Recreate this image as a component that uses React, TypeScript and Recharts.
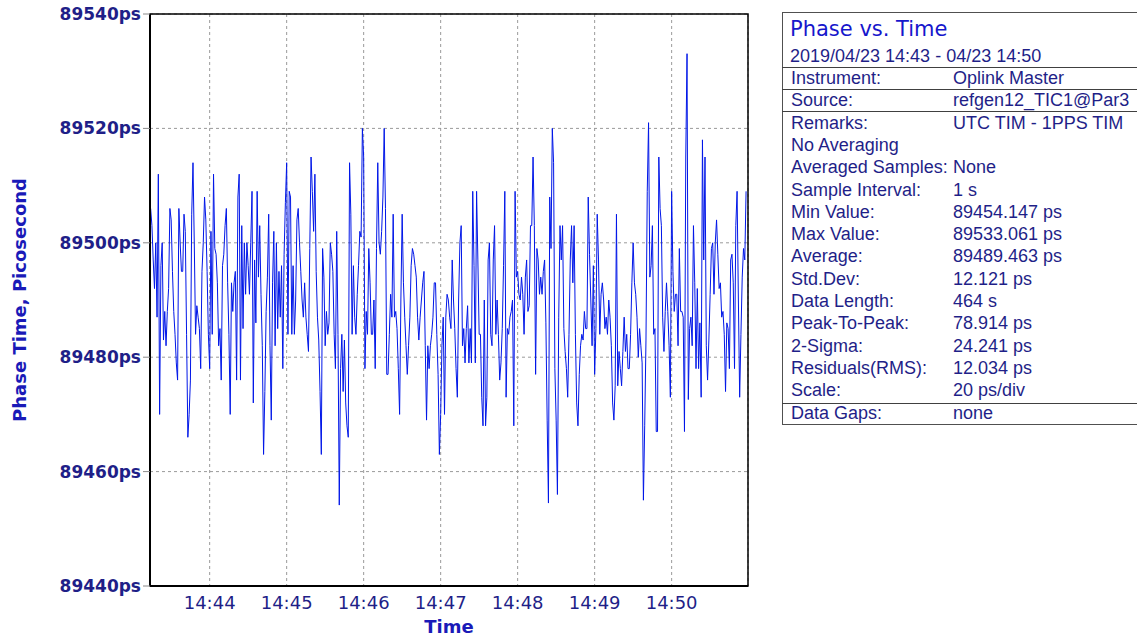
import React from 'react';
import { LineChart, Line, XAxis, YAxis, CartesianGrid, ReferenceArea } from 'recharts';

// phase readings in ps, one per second, starting 14:43:14
const phaseBlock1 = [
  89506, 89503, 89497, 89492, 89500, 89487, 89512, 89470, 89496, 89500,
  89483, 89488, 89482, 89488, 89492, 89506, 89504, 89495, 89488, 89484,
  89479, 89476, 89506, 89500, 89495, 89495, 89505, 89502, 89484, 89466,
  89470, 89476, 89505, 89514, 89500, 89484, 89489, 89487, 89485, 89478,
  89495, 89500, 89508, 89504, 89495, 89484, 89478, 89502, 89484, 89512,
  89499, 89498, 89493, 89482, 89485, 89476, 89496, 89498, 89503, 89506,
  89493, 89484, 89470, 89493, 89488, 89493, 89495, 89476, 89508, 89512,
  89476, 89503, 89485, 89500, 89491, 89500,
];
const phaseBlock2 = [
  89496, 89491, 89500, 89509, 89472, 89497, 89486, 89509, 89494, 89503,
  89491, 89482, 89463, 89474, 89488, 89494, 89505, 89482, 89469, 89493,
  89502, 89482, 89500, 89485, 89495, 89487, 89496, 89478, 89498, 89507,
  89514, 89484, 89509, 89508, 89484, 89496, 89484, 89490, 89504, 89506,
  89500, 89495, 89490, 89487, 89493, 89487, 89484, 89481, 89499, 89515,
  89509, 89502, 89512, 89495, 89487, 89483, 89474, 89463, 89499, 89494,
  89482, 89488, 89484, 89486, 89500, 89498, 89495, 89484, 89478, 89502,
  89484, 89454.147, 89478, 89484, 89474, 89483, 89472, 89468,
];
const phaseBlock3 = [
  89466, 89514, 89505, 89484, 89496, 89487, 89484, 89491, 89496, 89502,
  89501, 89520, 89515, 89478, 89488, 89484, 89499, 89493, 89484, 89484,
  89490, 89478, 89499, 89514, 89500, 89498, 89502, 89508, 89520, 89506,
  89477, 89477, 89484, 89491, 89487, 89505, 89487, 89488, 89485, 89478,
  89470, 89490, 89505, 89493, 89487, 89482, 89477, 89482, 89487, 89496,
  89499, 89498, 89496, 89494, 89487, 89483, 89487, 89490, 89493, 89495,
  89482, 89469, 89482, 89478, 89482, 89484, 89487, 89493, 89493, 89484,
  89477, 89463, 89470, 89482, 89487, 89470, 89487, 89491,
];
const phaseBlock4 = [
  89490, 89487, 89485, 89497, 89490, 89485, 89478, 89473, 89490, 89500,
  89503, 89482, 89485, 89479, 89485, 89489, 89479, 89485, 89479, 89509,
  89496, 89479, 89509, 89497, 89484, 89484, 89473, 89468, 89490, 89468,
  89473, 89497, 89500, 89484, 89482, 89497, 89503, 89484, 89490, 89484,
  89476, 89479, 89485, 89496, 89509, 89473, 89485, 89484, 89487, 89488,
  89490, 89468, 89509, 89494, 89495, 89491, 89490, 89494, 89491, 89484,
  89494, 89497, 89488, 89489, 89503, 89503, 89515, 89503, 89477, 89499,
  89497, 89491, 89494, 89491, 89495, 89497, 89486, 89469,
];
const phaseBlock5 = [
  89454.5, 89508, 89499, 89520, 89514, 89478, 89469, 89456, 89487, 89503,
  89497, 89503, 89485, 89481, 89478, 89473, 89484, 89497, 89503, 89493,
  89503, 89484, 89472, 89468, 89477, 89482, 89484, 89483, 89488, 89485,
  89485, 89508, 89498, 89490, 89482, 89496, 89477, 89485, 89505, 89497,
  89484, 89491, 89493, 89490, 89485, 89487, 89484, 89490, 89487, 89482,
  89472, 89469, 89475, 89505, 89475, 89481, 89478, 89475, 89481, 89487,
  89481, 89484, 89478, 89478, 89484, 89493, 89500, 89493, 89491, 89487,
  89480, 89485, 89482, 89479, 89455, 89468, 89483, 89509,
];
const phaseBlock6 = [
  89521, 89494, 89496, 89503, 89484, 89485, 89467, 89467, 89515, 89506,
  89503, 89487, 89481, 89488, 89493, 89488, 89482, 89473, 89509, 89495,
  89488, 89491, 89491, 89482, 89499, 89488, 89488, 89487, 89467, 89515,
  89533.061, 89472.6, 89485, 89487, 89482, 89503, 89493, 89478, 89492, 89478,
  89486, 89473, 89518, 89497, 89515, 89482, 89476, 89483, 89491, 89499,
  89500, 89491, 89500, 89504, 89498, 89492, 89493, 89487, 89488, 89484,
  89474, 89486, 89485, 89478, 89497, 89498, 89493, 89478, 89503, 89509,
  89490, 89473, 89484, 89494, 89499, 89497, 89509,
];

const minuteTicks = [60, 120, 180, 240, 300, 360, 420]; // seconds after 14:43:00
const minuteLabels = ['14:44', '14:45', '14:46', '14:47', '14:48', '14:49', '14:50'];
const phaseTicks = [89440, 89460, 89480, 89500, 89520, 89540];

const panelTitle = 'Phase vs. Time';
const panelRange = '2019/04/23 14:43 - 04/23 14:50';
const panelLabels = [
  'Instrument:', 'Source:', 'Remarks:', 'No Averaging', 'Averaged Samples:',
  'Sample Interval:', 'Min Value:', 'Max Value:', 'Average:', 'Std.Dev:',
  'Data Length:', 'Peak-To-Peak:', '2-Sigma:', 'Residuals(RMS):', 'Scale:', 'Data Gaps:',
];
const panelValues = [
  'Oplink Master', 'refgen12_TIC1@Par3', 'UTC TIM - 1PPS TIM', '', 'None',
  '1 s', '89454.147 ps', '89533.061 ps', '89489.463 ps', '12.121 ps',
  '464 s', '78.914 ps', '24.241 ps', '12.034 ps', '20 ps/div', 'none',
];

const FIRST_SECOND = 14;
const samples = [
  ...phaseBlock1, ...phaseBlock2, ...phaseBlock3,
  ...phaseBlock4, ...phaseBlock5, ...phaseBlock6,
].map((phase, i) => ({ t: FIRST_SECOND + i, phase }));

const NAVY = '#1f1f88';
const TITLE_BLUE = '#1a1ab8';
const TRACE = '#0016e8';
const X_DOMAIN: [number, number] = [13.5, 479.5];

const YTitle = (props: any) => {
  const vb = props.viewBox;
  const cx = 19;
  const cy = vb.y + vb.height / 2;
  return (
    <text x={cx} y={cy} transform={`rotate(-90 ${cx} ${cy})`} textAnchor="middle"
      dominantBaseline="central" fill={TITLE_BLUE} fontFamily="DejaVu Sans" fontWeight="bold" fontSize={18}>
      Phase Time, Picosecond
    </text>
  );
};

const XTitle = (props: any) => {
  const vb = props.viewBox;
  return (
    <text x={vb.x + vb.width / 2} y={vb.y + 47} textAnchor="middle" fill={TITLE_BLUE}
      fontFamily="DejaVu Sans" fontWeight="bold" fontSize={18}>
      Time
    </text>
  );
};

const InfoPanel = () => {
  const rowTop = 84;
  const rowStep = 22.3;
  return (
    <svg width={357} height={642} style={{ position: 'absolute', left: 780, top: 0 }}>
      <rect x={2.5} y={12.5} width={400} height={412} fill="#fff" stroke="#505050" />
      {[67, 89, 111, 403].map((y) => (
        <line key={y} x1={2} x2={357} y1={y + 0.5} y2={y + 0.5} stroke="#404040" />
      ))}
      <text x={10} y={36} fill="#1616cc" fontFamily="DejaVu Sans" fontSize={21}>{panelTitle}</text>
      <text x={10} y={62} fill={NAVY} fontFamily="Liberation Sans" fontSize={18}>{panelRange}</text>
      {panelLabels.map((label, k) => (
        <g key={label} fontFamily="Liberation Sans" fontSize={18} fill={NAVY}>
          <text x={11} y={rowTop + k * rowStep}>{label}</text>
          <text x={173} y={rowTop + k * rowStep}>{panelValues[k]}</text>
        </g>
      ))}
    </svg>
  );
};

export default function App() {
  return (
    <div style={{ position: 'absolute', left: 0, top: 0, width: 1137, height: 642, background: '#fff' }}>
      <LineChart width={760} height={642} data={samples} margin={{ top: 14, right: 12, bottom: 0, left: 0 }}>
        <CartesianGrid stroke="#9a9a9a" strokeDasharray="3 3" />
        <XAxis
          dataKey="t"
          type="number"
          domain={X_DOMAIN}
          allowDataOverflow
          ticks={minuteTicks}
          interval={0}
          tickFormatter={(v: number) => minuteLabels[minuteTicks.indexOf(v)]}
          height={56}
          axisLine={{ stroke: '#000', strokeWidth: 2 }}
          tickLine={false}
          tickSize={0}
          tickMargin={10}
          tick={{ fill: NAVY, fontSize: 18, fontFamily: 'DejaVu Sans' }}
          label={{ content: XTitle }}
        />
        <YAxis
          type="number"
          domain={[89440, 89540]}
          allowDataOverflow
          ticks={phaseTicks}
          interval={0}
          width={150}
          tickFormatter={(v: number) => `${v}ps`}
          axisLine={{ stroke: '#000', strokeWidth: 2 }}
          tickLine={{ stroke: '#8a8a8a' }}
          tickSize={7}
          tickMargin={2}
          tick={{ fill: NAVY, fontSize: 17, fontWeight: 'bold', fontFamily: 'DejaVu Sans' }}
          label={{ content: YTitle }}
        />
        <ReferenceArea x1={X_DOMAIN[0]} x2={X_DOMAIN[1]} y1={89440} y2={89540} fill="none"
          fillOpacity={0} stroke="#000" strokeWidth={1.5} ifOverflow="visible" />
        <Line
          type="linear"
          dataKey="phase"
          stroke={TRACE}
          strokeWidth={1}
          dot={false}
          isAnimationActive={false}
        />
      </LineChart>
      <InfoPanel />
    </div>
  );
}
